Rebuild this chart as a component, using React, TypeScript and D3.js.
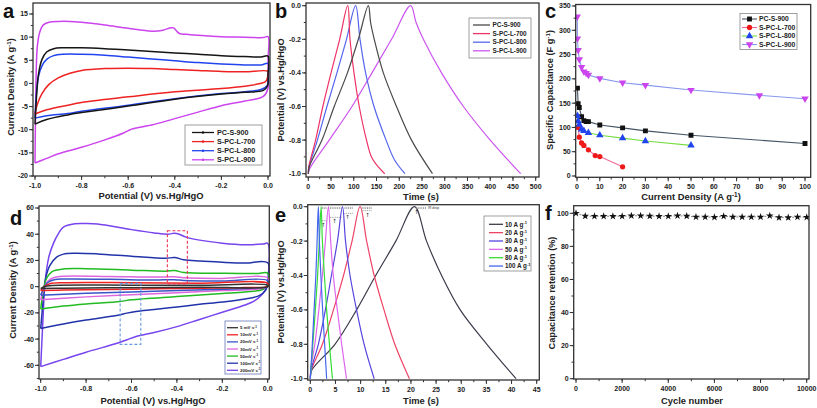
import React from 'react';
import * as d3 from 'd3';

type P = [number, number];

// ---------------- Panel a : CV loops (V, A/g) ----------------
const aNames = ['PC-S-900', 'S-PC-L-700', 'S-PC-L-800', 'S-PC-L-900'];
const aPCS900: P[] = [
  [-1, -8.8], [-0.995, -4], [-0.985, 2], [-0.97, 5.2], [-0.95, 6.8], [-0.92, 7.5], [-0.88, 7.7], [-0.8, 7.7],
  [-0.7, 7.5], [-0.6, 7.2], [-0.5, 6.9], [-0.4, 6.6], [-0.3, 6.3], [-0.2, 6.0], [-0.1, 5.8], [-0.03, 5.7], [0, 5.9],
  [0, 2], [-0.002, -0.5], [-0.02, -1.5], [-0.1, -1.9], [-0.2, -2.3], [-0.4, -3.4], [-0.6, -4.9], [-0.8, -6.3],
  [-0.86, -6.8], [-0.95, -7.8], [-1, -8.8],
];
const aPCL700: P[] = [
  [-1, -6.6], [-0.99, -4.5], [-0.97, -2.2], [-0.94, -0.2], [-0.9, 1.2], [-0.85, 2.2], [-0.8, 2.8], [-0.7, 3.2],
  [-0.6, 3.3], [-0.5, 3.2], [-0.4, 3.0], [-0.3, 2.8], [-0.2, 2.6], [-0.1, 2.5], [0, 2.6],
  [0, 1.8], [-0.01, 0.4], [-0.05, -0.2], [-0.1, -0.6], [-0.2, -1.1], [-0.4, -1.8], [-0.6, -2.9], [-0.8, -4.1],
  [-0.86, -4.7], [-0.95, -5.7], [-1, -6.6],
];
const aPCL800: P[] = [
  [-1, -7.5], [-0.995, -3], [-0.985, 1.5], [-0.97, 3.8], [-0.95, 5.2], [-0.92, 6], [-0.88, 6.3], [-0.8, 6.3],
  [-0.7, 6.1], [-0.6, 5.7], [-0.5, 5.3], [-0.4, 4.9], [-0.3, 4.5], [-0.2, 4.2], [-0.1, 4.0], [-0.03, 4.0], [0, 4.3],
  [0, 1], [-0.003, -0.4], [-0.03, -1.3], [-0.1, -1.8], [-0.2, -2.2], [-0.4, -3.3], [-0.6, -4.7], [-0.8, -6],
  [-0.86, -6.5], [-0.95, -7], [-1, -7.5],
];
const aPCL900: P[] = [
  [-1, -17.2], [-0.998, -8], [-0.995, 2], [-0.99, 8], [-0.98, 11], [-0.965, 12.6], [-0.94, 13.2], [-0.9, 13.4],
  [-0.85, 13.4], [-0.8, 13.2], [-0.7, 12.6], [-0.6, 11.9], [-0.5, 11.3], [-0.45, 11.5], [-0.42, 12], [-0.405, 12],
  [-0.39, 11.2], [-0.38, 10.8], [-0.35, 10.6], [-0.3, 10.4], [-0.2, 10.1], [-0.1, 10], [-0.02, 9.9], [0, 10.1],
  [0, 5], [-0.001, -1.2], [-0.02, -2.8], [-0.1, -3.8], [-0.2, -4.8], [-0.3, -6.2], [-0.4, -7.6], [-0.5, -9],
  [-0.58, -9.8], [-0.6, -10.2], [-0.62, -10.7], [-0.7, -12.2], [-0.8, -13.8], [-0.9, -15.2], [-0.95, -16.2], [-1, -17.2],
];

// ---------------- Panel b : GCD (s, V) ----------------
const bNames = ['PC-S-900', 'S-PC-L-700', 'S-PC-L-800', 'S-PC-L-900'];
const bPCS900: P[] = [
  [0, -1], [2, -0.96], [30, -0.8], [57, -0.6], [86, -0.4], [110, -0.2], [132, 0],
  [137, -0.1], [145, -0.2], [165, -0.4], [194, -0.6], [227, -0.8], [273, -1],
];
const bPCL700: P[] = [
  [0, -1], [1, -0.96], [16, -0.8], [32, -0.6], [50, -0.4], [69, -0.2], [86.6, 0],
  [91.7, -0.2], [100.5, -0.4], [112, -0.6], [128, -0.8], [139, -0.9], [154, -0.96], [168, -1],
];
const bPCL800: P[] = [
  [0, -1], [1.5, -0.96], [20, -0.8], [41, -0.6], [63, -0.4], [84, -0.2], [104, 0],
  [113.7, -0.2], [126, -0.4], [144.5, -0.6], [171, -0.8], [190, -0.92], [212.6, -1],
];
const bPCL900: P[] = [
  [0, -1], [3, -0.97], [46, -0.8], [96, -0.6], [140, -0.4], [183, -0.2], [225, 0],
  [237, -0.1], [253, -0.2], [293, -0.4], [341, -0.6], [400, -0.8], [467, -1],
];

// ---------------- Panel c : rate capability ----------------
const cNames = ['PC-S-900', 'S-PC-L-700', 'S-PC-L-800', 'S-PC-L-900'];
const cX_PCS900 = [0.2, 0.5, 1, 2, 3, 4, 5, 10, 20, 30, 50, 100];
const cY_PCS900 = [181, 149, 141, 122, 114, 112, 112, 105, 99, 93, 84, 67];
const cX_PCL700 = [0.5, 1, 2, 3, 5, 8, 10, 20];
const cY_PCL700 = [100, 80, 68, 63, 54, 42, 40, 19];
const cX_PCL800 = [0.2, 0.5, 1, 2, 3, 5, 10, 20, 30, 50];
const cY_PCL800 = [124, 113, 106, 96, 93, 89, 84, 78, 72, 63];
const cX_PCL900 = [0.1, 0.2, 0.5, 1, 2, 3, 4, 5, 10, 20, 30, 50, 80, 100];
const cY_PCL900 = [328, 283, 259, 240, 224, 215, 212, 208, 201, 192, 187, 177, 166, 159];

// ---------------- Panel d : CV at scan rates ----------------
const dNames = ['5 mV s', '10mV s', '20mV s', '30mV s', '50mV s', '100mV s', '200mV s'];
const d5: P[] = [
  [-1, -1.5], [-0.985, 0], [-0.95, 0.9], [-0.6, 1.1], [-0.3, 1], [0, 1.1],
  [0, 0], [-0.3, -0.4], [-0.6, -0.8], [-0.9, -1.2], [-1, -1.5],
];
const d10: P[] = [
  [-1, -3], [-0.985, 0], [-0.96, 2.2], [-0.9, 3], [-0.6, 3], [-0.3, 2.6], [0, 2.6],
  [0, 0.2], [-0.1, -0.6], [-0.3, -1.2], [-0.6, -1.9], [-0.9, -2.6], [-1, -3],
];
const d20: P[] = [
  [-1, -6.5], [-0.985, -1], [-0.97, 3], [-0.94, 5.2], [-0.9, 5.8], [-0.7, 5.6], [-0.5, 5.1], [-0.41, 5.3],
  [-0.37, 4.7], [-0.2, 4.3], [0, 4.6],
  [0, 0], [-0.05, -1], [-0.2, -2], [-0.5, -3.5], [-0.8, -5], [-1, -6.5],
];
const d30: P[] = [
  [-1, -10], [-0.985, -1], [-0.97, 4], [-0.94, 7], [-0.9, 8], [-0.7, 7.8], [-0.5, 7.3], [-0.41, 7.5],
  [-0.37, 6.7], [-0.2, 6.3], [0, 6.6],
  [0, 0.5], [-0.03, -1.5], [-0.2, -3], [-0.4, -4.6], [-0.6, -6.2], [-0.8, -7.8], [-1, -10],
];
const d50: P[] = [
  [-1, -17], [-0.99, -5], [-0.975, 6], [-0.95, 11.5], [-0.9, 13.5], [-0.8, 13.7], [-0.6, 12.6], [-0.45, 11.8],
  [-0.41, 12.3], [-0.37, 10.8], [-0.2, 10.2], [-0.05, 10], [0, 10.3],
  [0, 2], [-0.02, -2], [-0.1, -4], [-0.2, -5.2], [-0.4, -7.5], [-0.6, -10], [-0.65, -11.3], [-0.8, -13.2],
  [-0.9, -14.8], [-1, -17],
];
const d100: P[] = [
  [-1, -32], [-0.99, -12], [-0.98, 5], [-0.96, 16], [-0.93, 22.5], [-0.9, 24.8], [-0.85, 25.5], [-0.75, 25],
  [-0.6, 23.2], [-0.45, 21.6], [-0.41, 22.2], [-0.37, 20.5], [-0.3, 19.5], [-0.2, 18.6], [-0.1, 18], [0, 18.2],
  [0, 3], [-0.01, -3], [-0.04, -7], [-0.1, -9.5], [-0.2, -11.8], [-0.3, -13.5], [-0.4, -15.5], [-0.5, -17.5],
  [-0.58, -19], [-0.62, -20.2], [-0.66, -21.8], [-0.8, -25.5], [-0.9, -28.5], [-1, -32],
];
const d200: P[] = [
  [-1, -61], [-0.99, -25], [-0.981, 2.5], [-0.965, 22], [-0.944, 33], [-0.92, 41], [-0.9, 45.5], [-0.85, 48],
  [-0.8, 48.2], [-0.75, 47.8], [-0.6, 43.5], [-0.5, 41], [-0.44, 40], [-0.41, 40.8], [-0.39, 40], [-0.36, 37.8],
  [-0.3, 35.5], [-0.2, 33.2], [-0.1, 32], [-0.02, 32.5], [0, 33],
  [0, 5], [-0.01, -2], [-0.03, -7], [-0.06, -11], [-0.1, -14], [-0.2, -19.5], [-0.3, -25], [-0.4, -30.5],
  [-0.5, -35], [-0.58, -38], [-0.62, -40.5], [-0.66, -43], [-0.8, -50], [-0.9, -55.5], [-1, -61],
];
// highlighted regions (V range, current range)
const dBoxRed: number[] = [-0.442, -0.354, 2, 42.7];
const dBoxBlue: number[] = [-0.65, -0.559, 2.5, -44];

// ---------------- Panel e : GCD at current densities ----------------
const eNames = ['10 A g', '20 A g', '30 A g', '50 A g', '80 A g', '100 A g'];
const e10: P[] = [
  [0, -1], [0.3, -0.95], [4.9, -0.8], [9.2, -0.6], [13, -0.4], [17, -0.2], [20.7, 0],
  [23.1, -0.2], [26.1, -0.4], [29.8, -0.6], [35.1, -0.8], [40.9, -1],
];
const e20: P[] = [
  [0, -1], [0.2, -0.95], [2.4, -0.8], [4.6, -0.6], [6.6, -0.4], [8.3, -0.2], [9.9, 0],
  [11.2, -0.2], [12.7, -0.4], [14.65, -0.6], [16.8, -0.8], [19.7, -1],
];
const e30: P[] = [
  [0, -1], [0.15, -0.95], [1.6, -0.8], [3, -0.6], [4.2, -0.4], [5.4, -0.2], [6.4, 0],
  [7.0, -0.2], [7.9, -0.4], [9.2, -0.6], [10.7, -0.8], [12.7, -1],
];
const e50: P[] = [
  [0, -1], [0.1, -0.94], [0.9, -0.8], [1.7, -0.6], [2.4, -0.4], [3, -0.2], [3.6, 0],
  [4.05, -0.2], [4.57, -0.4], [5.37, -0.6], [6.24, -0.8], [7.2, -1],
];
const e80: P[] = [
  [0, -1], [0.5, -0.8], [1.0, -0.6], [1.45, -0.4], [1.8, -0.2], [2.15, 0],
  [2.4, -0.2], [2.8, -0.4], [3.25, -0.6], [3.8, -0.8], [4.4, -1],
];
const e100: P[] = [
  [0, -1], [0.4, -0.8], [0.75, -0.6], [1.1, -0.4], [1.35, -0.2], [1.6, 0],
  [1.8, -0.2], [2.1, -0.4], [2.45, -0.6], [2.85, -0.8], [3.25, -1],
];
// IR drop marks: [t start, t end] at V = 0, second mark level, arrow time
const eIrSpan: P[] = [[21.0, 23.0], [10.2, 12.2], [6.8, 8.6], [3.9, 6.2], [2.3, 3.3]];
const eIrLow = [null, -0.023, -0.039, -0.062, -0.081];
const eIrArrowT = [21.1, 11.4, 7.4, 4.8, 2.6];

// ---------------- Panel f : cycling ----------------
const fCycles = [0, 400, 800, 1200, 1600, 2000, 2400, 2800, 3200, 3600, 4000, 4400, 4800, 5200, 5600, 6000,
  6400, 6800, 7200, 7600, 8000, 8400, 8800, 9200, 9600, 10000];
const fRetention = [100, 98.3, 98.2, 98.2, 98.2, 98.2, 98.5, 98.5, 98.3, 98.2, 98.2, 98.5, 98.3, 97.8, 97.8,
  97.6, 98.2, 97.8, 97.8, 97.8, 97.8, 98.5, 97.4, 97.4, 97.8, 97.6];

// ---------------- styling ----------------
const FONT = '"Liberation Sans", Arial, Helvetica, sans-serif';
const aColors = ['#151515', '#ee2222', '#2244ee', '#cc44ee'];
const bColors = ['#4a4a4a', '#ee3366', '#5566ee', '#cc55ee'];
const cMarkColors = ['#111111', '#ee1a1a', '#2244ee', '#cc44ee'];
const cLineColors = ['#445566', '#ee6699', '#77dd44', '#8899ee'];
const dColors = ['#333333', '#ee2222', '#3a55c8', '#dd66dd', '#22bb22', '#2233aa', '#7744ee'];
const eColors = ['#3c3c4c', '#ee4466', '#5544dd', '#dd66ee', '#33dd33', '#4466ee'];

const rng = (start: number, stop: number, step: number) => {
  const n = Math.round((stop - start) / step);
  return d3.range(n + 1).map((i) => +(start + i * step).toFixed(6));
};
const fmt1 = (v: number) => (Math.abs(v) < 1e-9 ? '0.0' : v.toFixed(1));
const fmt0 = (v: number) => String(Math.round(v));

const supTail = (s: string, close = true) => [
  <tspan key="s" dy={-3} fontSize="0.68em">{s}</tspan>,
  <tspan key="c" dy={3}>{close ? ')' : '\u200b'}</tspan>,
];

function Axes({ c }: { c: any }) {
  const { fx0, fx1, fy0, fy1, x, y } = c;
  const inX = (v: number) => x(v) >= fx0 - 0.5 && x(v) <= fx1 + 0.5;
  const inY = (v: number) => y(v) >= fy0 - 0.5 && y(v) <= fy1 + 0.5;
  const tk = { stroke: '#333', strokeWidth: 1 };
  return (
    <g fontFamily={FONT} fontWeight="bold" fill="#222">
      <rect x={fx0} y={fy0} width={fx1 - fx0} height={fy1 - fy0} fill="none" stroke="#333" strokeWidth={1.3} />
      {c.xMinor.filter(inX).map((v: number) => (
        <line key={'xm' + v} x1={x(v)} x2={x(v)} y1={fy1} y2={fy1 + 2.2} {...tk} />
      ))}
      {c.xMajor.filter(inX).map((v: number) => (
        <g key={'xM' + v}>
          <line x1={x(v)} x2={x(v)} y1={fy1} y2={fy1 + 4} {...tk} />
          <text x={x(v)} y={fy1 + 11.5} fontSize={7} textAnchor="middle">{c.xFmt(v)}</text>
        </g>
      ))}
      {c.yMinor.filter(inY).map((v: number) => (
        <line key={'ym' + v} x1={fx0 - 2.2} x2={fx0} y1={y(v)} y2={y(v)} {...tk} />
      ))}
      {c.yMajor.filter(inY).map((v: number) => (
        <g key={'yM' + v}>
          <line x1={fx0 - 4} x2={fx0} y1={y(v)} y2={y(v)} {...tk} />
          <text x={fx0 - 5} y={y(v)} dy="0.35em" fontSize={7} textAnchor="end">{c.yFmt(v)}</text>
        </g>
      ))}
      <text x={c.xTitleX} y={c.xTitleY} fontSize={9.4} textAnchor="middle">{c.xTitle}</text>
      <text transform={`translate(${c.yTitleX},${c.yTitleY}) rotate(-90)`} fontSize={9.2} textAnchor="middle">
        {c.yTitle}
      </text>
      <text x={c.lx} y={c.ly} fontSize={20} fontWeight="bold" fill="#111">{c.letter}</text>
    </g>
  );
}

function ClipDef({ id, c }: { id: string; c: any }) {
  return (
    <clipPath id={id}>
      <rect x={c.fx0} y={c.fy0} width={c.fx1 - c.fx0} height={c.fy1 - c.fy0} />
    </clipPath>
  );
}

export default function App() {
  const curve = d3.curveCatmullRom.alpha(0.5);

  // ----- scales -----
  const ca = {
    fx0: 33, fx1: 270, fy0: 3, fy1: 176,
    x: d3.scaleLinear().domain([-1, 0]).range([35, 268]),
    y: d3.scaleLinear().domain([-20, 15]).range([176, 14]),
    xMajor: rng(-1, 0, 0.2), xMinor: rng(-1, 0, 0.1), yMajor: rng(-20, 15, 5), yMinor: rng(-20, 17.5, 2.5),
    xFmt: fmt1, yFmt: fmt0,
    xTitle: 'Potential (V) vs.Hg/HgO', yTitle: ['Current Density (A g', ...supTail('-1')],
    xTitleX: 151, xTitleY: 199, yTitleX: 14, yTitleY: 87, letter: 'a', lx: 3, ly: 18,
  };
  const cb = {
    fx0: 306, fx1: 539, fy0: 3, fy1: 177,
    x: d3.scaleLinear().domain([0, 500]).range([308.3, 535.7]),
    y: d3.scaleLinear().domain([-1, 0]).range([173.7, 5.7]),
    xMajor: rng(0, 500, 50), xMinor: rng(0, 500, 25), yMajor: rng(-1, 0, 0.2), yMinor: rng(-1, 0, 0.1),
    xFmt: fmt0, yFmt: fmt1,
    xTitle: 'Time (s)', yTitle: 'Potential (V) vs.Hg/HgO',
    xTitleX: 421, xTitleY: 200, yTitleX: 284, yTitleY: 90, letter: 'b', lx: 275, ly: 18,
  };
  const cc = {
    fx0: 575.7, fx1: 810.7, fy0: 4.5, fy1: 177.3,
    x: d3.scaleLinear().domain([0, 100]).range([577, 805]),
    y: d3.scaleLinear().domain([0, 350]).range([176, 6]),
    xMajor: rng(0, 100, 10), xMinor: rng(0, 100, 5), yMajor: rng(0, 350, 50), yMinor: rng(0, 350, 25),
    xFmt: fmt0, yFmt: fmt0,
    xTitle: ['Current Density (A g', ...supTail('-1')], yTitle: ['Specific Capacitance (F g', ...supTail('-1')],
    xTitleX: 691, xTitleY: 200, yTitleX: 553, yTitleY: 90, letter: 'c', lx: 545, ly: 18,
  };
  const cd = {
    fx0: 39, fx1: 269.3, fy0: 206, fy1: 379,
    x: d3.scaleLinear().domain([-1, 0]).range([40.7, 267.7]),
    y: d3.scaleLinear().domain([-60, 60]).range([365.3, 208]),
    xMajor: rng(-1, 0, 0.2), xMinor: rng(-1, 0, 0.1), yMajor: rng(-60, 60, 20), yMinor: rng(-70, 60, 10),
    xFmt: fmt1, yFmt: fmt0,
    xTitle: 'Potential (V) vs.Hg/HgO', yTitle: ['Current Density (A g', ...supTail('-1')],
    xTitleX: 153, xTitleY: 404, yTitleX: 16, yTitleY: 290, letter: 'd', lx: 10, ly: 225,
  };
  const ce = {
    fx0: 307.7, fx1: 539.3, fy0: 204.7, fy1: 380,
    x: d3.scaleLinear().domain([0, 45]).range([310.3, 536.7]),
    y: d3.scaleLinear().domain([-1, 0]).range([378.7, 206.7]),
    xMajor: rng(0, 45, 5), xMinor: rng(0, 45, 2.5), yMajor: rng(-1, 0, 0.2), yMinor: rng(-1, 0, 0.1),
    xFmt: fmt0, yFmt: fmt1,
    xTitle: 'Time (s)', yTitle: 'Potential (V) vs.Hg/HgO',
    xTitleX: 421, xTitleY: 404, yTitleX: 284, yTitleY: 292, letter: 'e', lx: 275, ly: 222,
  };
  const cf = {
    fx0: 573.7, fx1: 809, fy0: 205.7, fy1: 379,
    x: d3.scaleLinear().domain([0, 10000]).range([576, 806.7]),
    y: d3.scaleLinear().domain([0, 100]).range([378.7, 213.3]),
    xMajor: rng(0, 10000, 2000), xMinor: rng(0, 10000, 1000), yMajor: rng(0, 100, 20), yMinor: rng(0, 100, 10),
    xFmt: fmt0, yFmt: fmt0,
    xTitle: 'Cycle number', yTitle: 'Capacitance retention (%)',
    xTitleX: 692, xTitleY: 404, yTitleX: 555, yTitleY: 293, letter: 'f', lx: 545, ly: 220,
  };

  const lineOf = (c: any, smooth = true) => {
    const g = d3.line<P>().x((d) => c.x(d[0])).y((d) => c.y(d[1]));
    return smooth ? g.curve(curve) : g;
  };

  const aData = [aPCS900, aPCL700, aPCL800, aPCL900];
  const bData = [bPCS900, bPCL700, bPCL800, bPCL900];
  const cData = [
    d3.zip(cX_PCS900, cY_PCS900) as P[],
    d3.zip(cX_PCL700, cY_PCL700) as P[],
    d3.zip(cX_PCL800, cY_PCL800) as P[],
    d3.zip(cX_PCL900, cY_PCL900) as P[],
  ];
  const dData = [d5, d10, d20, d30, d50, d100, d200];
  const eData = [e10, e20, e30, e50, e80, e100];
  const fData = d3.zip(fCycles, fRetention) as P[];

  const la = lineOf(ca), lb = lineOf(cb), ld = lineOf(cd), le = lineOf(ce);
  const lc = lineOf(cc, false), lf = lineOf(cf, false);

  const sym = [
    d3.symbol().type(d3.symbolSquare).size(24),
    d3.symbol().type(d3.symbolCircle).size(22),
    d3.symbol().type(d3.symbolTriangle).size(24),
    d3.symbol().type(d3.symbolTriangle).size(24),
  ];
  const symRot = [0, 0, 0, 180];
  const star = d3.symbol().type(d3.symbolStar).size(18);

  const lgText = { fontFamily: FONT, fontWeight: 'bold' as const, fill: '#222' };

  return (
    <svg width={817} height={408} style={{ position: 'absolute', left: 0, top: 0, background: '#fff' }}>
      <defs>
        <ClipDef id="ca" c={ca} />
        <ClipDef id="cb" c={cb} />
        <ClipDef id="cc" c={cc} />
        <ClipDef id="cd" c={cd} />
        <ClipDef id="ce" c={ce} />
        <ClipDef id="cf" c={cf} />
      </defs>
      <rect width={817} height={408} fill="#fff" />

      {/* ---------- a ---------- */}
      <g clipPath="url(#ca)" fill="none">
        {[3, 2, 1, 0].map((i) => (
          <path key={i} d={la(aData[i]) || ''} stroke={aColors[i]} strokeWidth={1.5} />
        ))}
      </g>
      <Axes c={ca} />
      <g>
        <rect x={185} y={125} width={77} height={40} fill="#fff" stroke="#888" strokeWidth={0.8} />
        {aNames.map((n, i) => {
          const yy = 132.5 + i * 9.1;
          return (
            <g key={n}>
              <line x1={192} x2={214} y1={yy} y2={yy} stroke={aColors[i]} strokeWidth={1.3} />
              <circle cx={203} cy={yy} r={1.3} fill={aColors[i]} />
              <text x={217} y={yy} dy="0.35em" fontSize={7.2} {...lgText}>{n}</text>
            </g>
          );
        })}
      </g>

      {/* ---------- b ---------- */}
      <g clipPath="url(#cb)" fill="none">
        {[3, 2, 1, 0].map((i) => (
          <path key={i} d={lb(bData[i]) || ''} stroke={bColors[i]} strokeWidth={1.2} />
        ))}
      </g>
      <Axes c={cb} />
      <g>
        <rect x={469} y={18} width={62} height={40} fill="#fff" stroke="#888" strokeWidth={0.8} />
        {bNames.map((n, i) => {
          const yy = 25 + i * 8.6;
          return (
            <g key={n}>
              <line x1={473} x2={490} y1={yy} y2={yy} stroke={bColors[i]} strokeWidth={1.3} />
              <text x={492.5} y={yy} dy="0.35em" fontSize={6.4} {...lgText}>{n}</text>
            </g>
          );
        })}
      </g>

      {/* ---------- c ---------- */}
      <g clipPath="url(#cc)">
        {[0, 1, 2, 3].map((i) => (
          <path key={'l' + i} d={lc(cData[i]) || ''} fill="none" stroke={cLineColors[i]} strokeWidth={1.1} />
        ))}
        {[0, 1, 2, 3].map((i) =>
          cData[i].map((p, j) => (
            <path key={'m' + i + '-' + j} d={sym[i]() || ''} fill={cMarkColors[i]}
              transform={`translate(${cc.x(p[0])},${cc.y(p[1])}) rotate(${symRot[i]})`} />
          ))
        )}
      </g>
      <Axes c={cc} />
      <g>
        <rect x={740} y={13.5} width={57} height={36} fill="#fff" stroke="#888" strokeWidth={0.8} />
        {cNames.map((n, i) => {
          const yy = 19 + i * 8.5;
          return (
            <g key={n}>
              <line x1={742} x2={757} y1={yy} y2={yy} stroke={cLineColors[i]} strokeWidth={1.1} />
              <path d={sym[i]() || ''} fill={cMarkColors[i]} transform={`translate(749.5,${yy}) rotate(${symRot[i]})`} />
              <text x={759} y={yy} dy="0.35em" fontSize={6.8} {...lgText}>{n}</text>
            </g>
          );
        })}
      </g>

      {/* ---------- d ---------- */}
      <g clipPath="url(#cd)" fill="none">
        {[6, 5, 4, 3, 2, 1, 0].map((i) => (
          <path key={i} d={ld(dData[i]) || ''} stroke={dColors[i]} strokeWidth={1.5} />
        ))}
        <rect x={cd.x(dBoxRed[0])} y={cd.y(dBoxRed[3])} width={cd.x(dBoxRed[1]) - cd.x(dBoxRed[0])}
          height={cd.y(dBoxRed[2]) - cd.y(dBoxRed[3])} stroke="#ee3355" strokeWidth={1.1} strokeDasharray="3,2" />
        <rect x={cd.x(dBoxBlue[0])} y={cd.y(dBoxBlue[2])} width={cd.x(dBoxBlue[1]) - cd.x(dBoxBlue[0])}
          height={cd.y(dBoxBlue[3]) - cd.y(dBoxBlue[2])} stroke="#6699dd" strokeWidth={1.1} strokeDasharray="3,2" />
      </g>
      <Axes c={cd} />
      <g>
        <rect x={225} y={321} width={36} height={53} fill="#fff" stroke="#6677bb" strokeWidth={0.8} />
        {dNames.map((n, i) => {
          const yy = 327.7 + i * 7.1;
          return (
            <g key={n}>
              <line x1={227} x2={238} y1={yy} y2={yy} stroke={dColors[i]} strokeWidth={1.3} />
              <text x={240} y={yy} dy="0.35em" fontSize={4.4} {...lgText}>
                {n}
                <tspan dy={-1.6} fontSize="0.7em">-1</tspan>
              </text>
            </g>
          );
        })}
      </g>

      {/* ---------- e ---------- */}
      <g clipPath="url(#ce)" fill="none">
        {[0, 1, 2, 3, 4, 5].map((i) => (
          <path key={i} d={le(eData[i]) || ''} stroke={eColors[i]} strokeWidth={1.2} />
        ))}
      </g>
      <g>
        {eIrSpan.map((s, i) => (
          <g key={'ir' + i} stroke="#888" strokeWidth={0.8} strokeDasharray="1,0.8">
            <line x1={ce.x(s[0])} x2={ce.x(s[1])} y1={ce.y(0) + 0.7} y2={ce.y(0) + 0.7} />
            <line x1={ce.x(s[0])} x2={ce.x(s[1])} y1={ce.y(0) + 1.8} y2={ce.y(0) + 1.8} />
            {eIrLow[i] !== null && (
              <line x1={ce.x(s[0])} x2={ce.x(s[1])} y1={ce.y(eIrLow[i] as number)} y2={ce.y(eIrLow[i] as number)} />
            )}
          </g>
        ))}
        {eIrArrowT.map((t, i) => (
          <text key={'ar' + i} x={ce.x(t)} y={ce.y((eIrLow[i] as number) ?? -0.01) + 6} fontSize={5.5}
            textAnchor="middle" fontFamily='"DejaVu Sans", sans-serif' fill="#222">↑</text>
        ))}
        <text x={ce.x(23.4)} y={ce.y(0) + 2.5} fontSize={3.4} fontFamily={FONT} fill="#333">IR drop</text>
      </g>
      <Axes c={ce} />
      <g>
        <rect x={484} y={216} width={47} height={55} fill="#fff" stroke="#888" strokeWidth={0.8} />
        {eNames.map((n, i) => {
          const yy = 224.3 + i * 8.35;
          return (
            <g key={n}>
              <line x1={489} x2={503} y1={yy} y2={yy} stroke={eColors[i]} strokeWidth={1.3} />
              <text x={505} y={yy} dy="0.35em" fontSize={6.3} {...lgText}>
                {n}
                <tspan dy={-2.2} fontSize="0.65em">-1</tspan>
              </text>
            </g>
          );
        })}
      </g>

      {/* ---------- f ---------- */}
      <g clipPath="url(#cf)">
        <path d={lf(fData) || ''} fill="none" stroke="#666" strokeWidth={0.8} strokeDasharray="2,1.5" />
        {fData.map((p, j) => (
          <path key={j} d={star() || ''} fill="#111" transform={`translate(${cf.x(p[0])},${cf.y(p[1])})`} />
        ))}
      </g>
      <Axes c={cf} />
    </svg>
  );
}
